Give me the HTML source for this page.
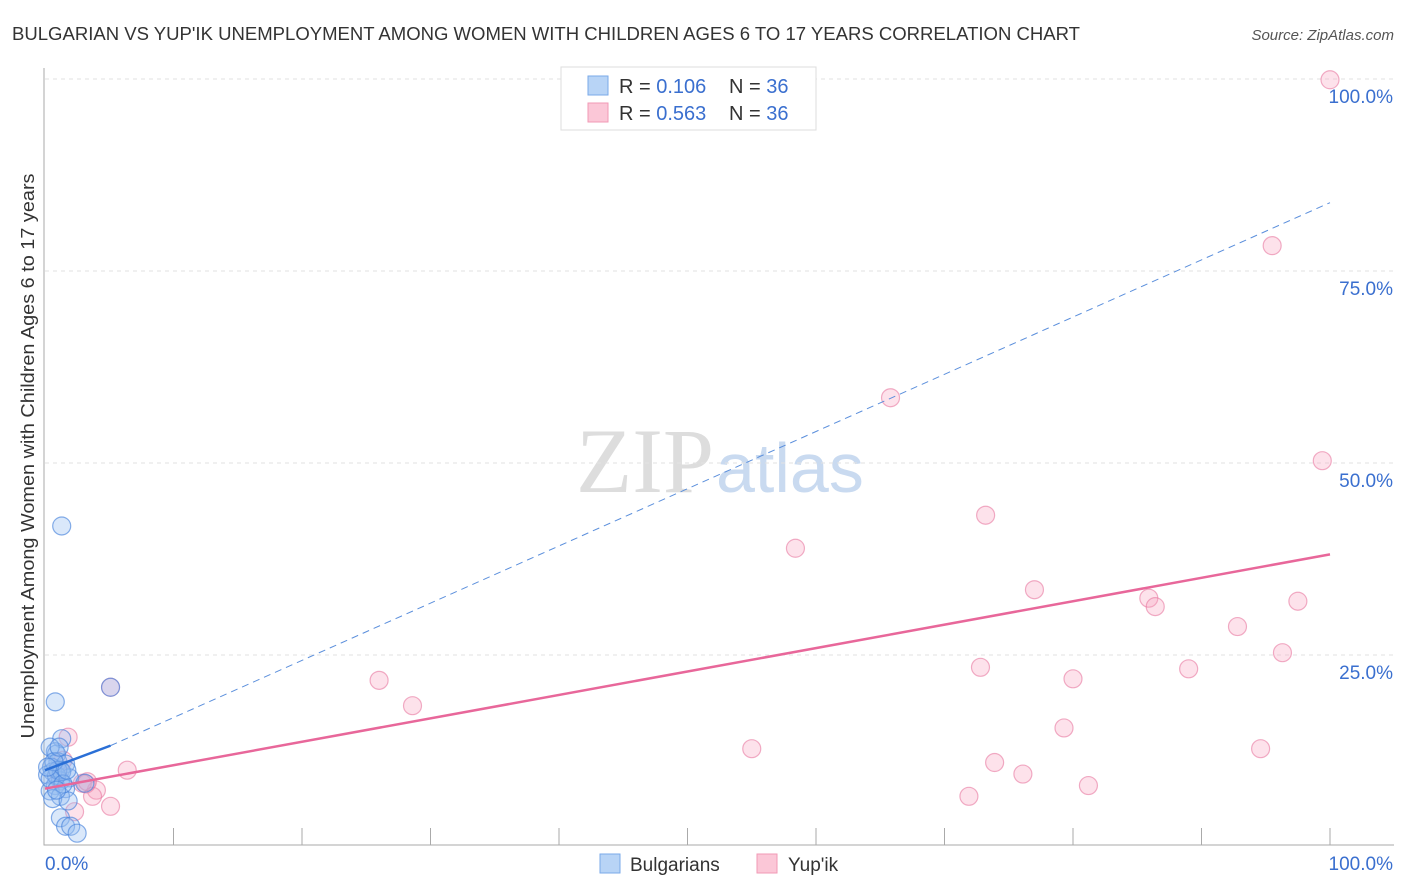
<!DOCTYPE html>
<html><head><meta charset="utf-8"><style>
body{margin:0;background:#fff;font-family:"Liberation Sans",sans-serif}
svg{display:block}
</style></head><body>
<svg id="chart" width="1406" height="892" xmlns="http://www.w3.org/2000/svg">
<text x="12" y="40" font-size="18" fill="#333" textLength="1068" lengthAdjust="spacingAndGlyphs">BULGARIAN VS YUP'IK UNEMPLOYMENT AMONG WOMEN WITH CHILDREN AGES 6 TO 17 YEARS CORRELATION CHART</text>
<text x="1394" y="40" font-size="15" fill="#555" font-style="italic" text-anchor="end">Source: ZipAtlas.com</text>
<text x="714" y="492" font-size="92" fill="#ddd" text-anchor="end" font-family="Liberation Serif,serif">ZIP</text>
<text x="716" y="492" font-size="70" fill="#c9daf0">atlas</text>
<g id="grid"></g>
<g id="axes"></g>
<g id="marks"></g>
<text transform="translate(34,456) rotate(-90)" font-size="18" fill="#333" text-anchor="middle" textLength="565" lengthAdjust="spacingAndGlyphs">Unemployment Among Women with Children Ages 6 to 17 years</text>
<g>
<rect x="561" y="67" width="255" height="63" fill="#fff" stroke="#ddd"/>
<rect x="588" y="76" width="20" height="19" fill="#b8d4f6" stroke="#7aaae8"/>
<rect x="588" y="103" width="20" height="19" fill="#fbc7d7" stroke="#f19ab5"/>
<text x="619" y="93" font-size="20" fill="#333">R = <tspan fill="#3a6fcf">0.106</tspan><tspan x="729">N = </tspan><tspan fill="#3a6fcf">36</tspan></text>
<text x="619" y="120" font-size="20" fill="#333">R = <tspan fill="#3a6fcf">0.563</tspan><tspan x="729">N = </tspan><tspan fill="#3a6fcf">36</tspan></text>
</g>
<g>
<rect x="600" y="854" width="20" height="19" fill="#b8d4f6" stroke="#7aaae8"/>
<text x="630" y="871" font-size="19" fill="#333">Bulgarians</text>
<rect x="757" y="854" width="20" height="19" fill="#fbc7d7" stroke="#f19ab5"/>
<text x="788" y="871" font-size="19" fill="#333">Yup'ik</text>
</g>
</svg>
<script>
const yTicks=[25,50,75,100];
const yTickLabels=["25.0%","50.0%","75.0%","100.0%"];
const xTicks=[0,10,20,30,40,50,60,70,80,90,100];
const bulgX=[1.3,0.8,5.1,1.3,0.8,0.9,0.4,1.0,1.6,0.5,1.2,0.6,1.9,0.2,1.2,0.8,1.6,0.4,1.2,0.6,1.8,1.2,1.6,2.0,2.5,0.9,1.0,1.3,0.4,1.4,0.7,1.7,0.9,0.2,1.1,3.1];
const bulgY=[41.8,18.9,20.8,14.1,12.4,12.1,13.0,11.1,10.8,10.4,10.0,9.8,9.0,9.4,8.6,8.0,7.6,7.3,6.6,6.3,6.0,3.8,2.7,2.7,1.8,9.3,10.0,9.8,8.9,8.2,11.1,10.0,7.4,10.4,13.0,8.3];
const yupX=[100,95.5,65.8,99.4,73.2,58.4,77.0,85.9,86.4,97.5,92.8,72.8,96.3,89,80,26,28.6,79.3,55,94.6,73.9,76.1,81.2,71.9,6.4,5.1,1.8,4.0,3.2,2.9,5.1,2.3,3.7,1.0,1.4,3.3];
const yupY=[99.9,78.3,58.5,50.3,43.2,38.9,33.5,32.4,31.3,32.0,28.7,23.4,25.3,23.2,21.9,21.7,18.4,15.5,12.8,12.8,11.0,9.5,8.0,6.6,10.0,20.8,14.3,7.4,8.2,8.3,5.3,4.6,6.6,9.8,11.3,8.5];
const bulgTrend=[[0,10],[5.1,13.2]];
const bulgTrendDash=[[5.1,13.2],[100,83.9]];
const yupTrend=[[0,7.6],[100,38.1]];
const X=v=>45+v*12.85, Y=v=>847-v*7.68;
const NS="http://www.w3.org/2000/svg";
function mk(t,a,p){const e=document.createElementNS(NS,t);for(const k in a)e.setAttribute(k,a[k]);p.appendChild(e);return e;}
const grid=document.getElementById('grid'),axes=document.getElementById('axes'),marks=document.getElementById('marks');
yTicks.forEach((t,i)=>{
 const l=mk('line',{x1:45,x2:1394,y1:Y(t),y2:Y(t),stroke:'#e2e2e2','stroke-dasharray':'4,4'},grid);
 
 
 const tx=mk('text',{x:1393,y:Y(t)+24,'font-size':19,fill:'#3a6fcf','text-anchor':'end'},axes);
 tx.textContent=yTickLabels[i];
 
 
});
const ax=mk('path',{d:'M44,68 V845 H1394',fill:'none',stroke:'#aaa'},axes);


xTicks.forEach(t=>{if(t===0)return;
 const l=mk('line',{x1:X(t),x2:X(t),y1:828,y2:845,stroke:'#aaa'},axes);
 
 
});
[['0.0%',45,'start'],['100.0%',1393,'end']].forEach(([s,x,a])=>{
 const t=mk('text',{x:x,y:870,'font-size':19,fill:'#3a6fcf','text-anchor':a},axes);t.textContent=s;
 
 
});
yupX.forEach((v,i)=>{
 const c=mk('circle',{cx:X(v),cy:Y(yupY[i]),r:9,fill:'rgba(247,160,188,0.3)',stroke:'rgba(232,120,160,0.6)','stroke-width':1.2},marks);
 
 
});
bulgX.forEach((v,i)=>{
 const c=mk('circle',{cx:X(v),cy:Y(bulgY[i]),r:9,fill:'rgba(150,190,240,0.35)',stroke:'rgba(70,130,220,0.65)','stroke-width':1.2},marks);
 
 
});
const d1=mk('line',{x1:X(bulgTrendDash[0][0]),y1:Y(bulgTrendDash[0][1]),x2:X(bulgTrendDash[1][0]),y2:Y(bulgTrendDash[1][1]),stroke:'#5b8fdc','stroke-width':1,'stroke-dasharray':'7,5'},marks);


const d2=mk('line',{x1:X(bulgTrend[0][0]),y1:Y(bulgTrend[0][1]),x2:X(bulgTrend[1][0]),y2:Y(bulgTrend[1][1]),stroke:'#2a6fd6','stroke-width':2.5},marks);


const d3=mk('line',{x1:X(yupTrend[0][0]),y1:Y(yupTrend[0][1]),x2:X(yupTrend[1][0]),y2:Y(yupTrend[1][1]),stroke:'#e8679a','stroke-width':2.5},marks);


</script>
</body></html>
